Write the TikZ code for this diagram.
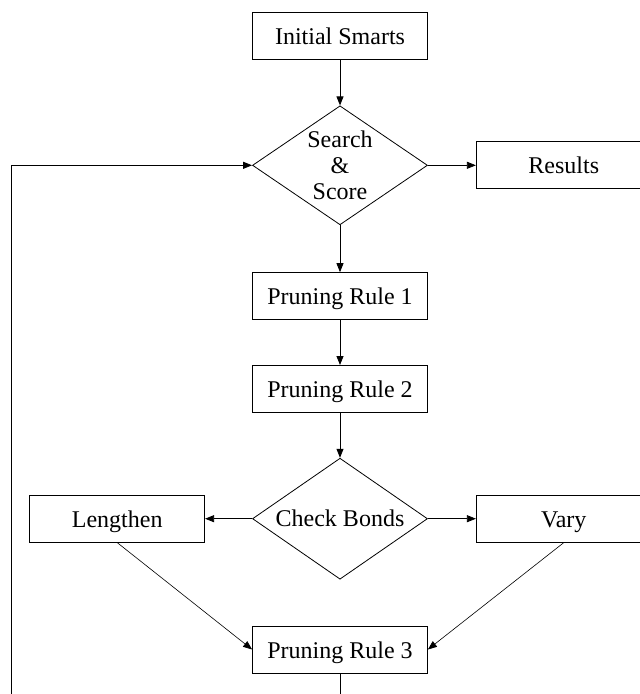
\documentclass[tikz,border=0pt]{standalone}
\usepackage{fontspec}
\setmainfont{Liberation Serif}
\usetikzlibrary{arrows.meta, positioning, shapes.geometric}
\tikzset{box/.style={draw, rectangle, minimum width=175pt, minimum height=47pt, inner sep=0pt, text height=17pt, text depth=0pt}}
\tikzset{decision/.style={draw, diamond, shape aspect=1.47, minimum width=175pt, minimum height=119pt, inner sep=0pt, align=center}}

\begin{document}
\begin{tikzpicture}[x=1pt, y=-1pt, >={Triangle[length=9pt, width=7pt]}, line width=0.8pt, node distance=46pt, font=\fontsize{24}{26}\selectfont]
\path[use as bounding box, clip] (0,0) rectangle (640,694);
\node[box] (init) at (340,35.5) {Initial Smarts};
\node[decision, below=of init] (search) {Search\\\&\\Score};
\node[box, right=48pt of search] (results) {Results};
\node[box, below=47pt of search] (pr1) {Pruning Rule 1};
\node[box, below=45pt of pr1] (pr2) {Pruning Rule 2};
\node[decision, below=45pt of pr2, minimum height=121pt] (check) {Check Bonds};
\node[box, left=47pt of check] (len) {Lengthen};
\node[box, right=48pt of check] (vary) {Vary};
\node[box, below=of check] (pr3) {Pruning Rule 3};
\coordinate (loop) at (11,730);
\draw [->] (init) -- (search);
\draw [->] (search) -- (results);
\draw [->] (search) -- (pr1);
\draw [->] (pr1) -- (pr2);
\draw [->] (pr2) -- (check);
\draw [->] (check) -- (len);
\draw [->] (check) -- (vary);
\draw [->, line width=0.6pt] (len.south) -- (pr3.west);
\draw [->, line width=0.6pt] (vary.south) -- (pr3.east);
\draw [->] (pr3) |- (loop) |- (search.west);
\end{tikzpicture}
\end{document}
